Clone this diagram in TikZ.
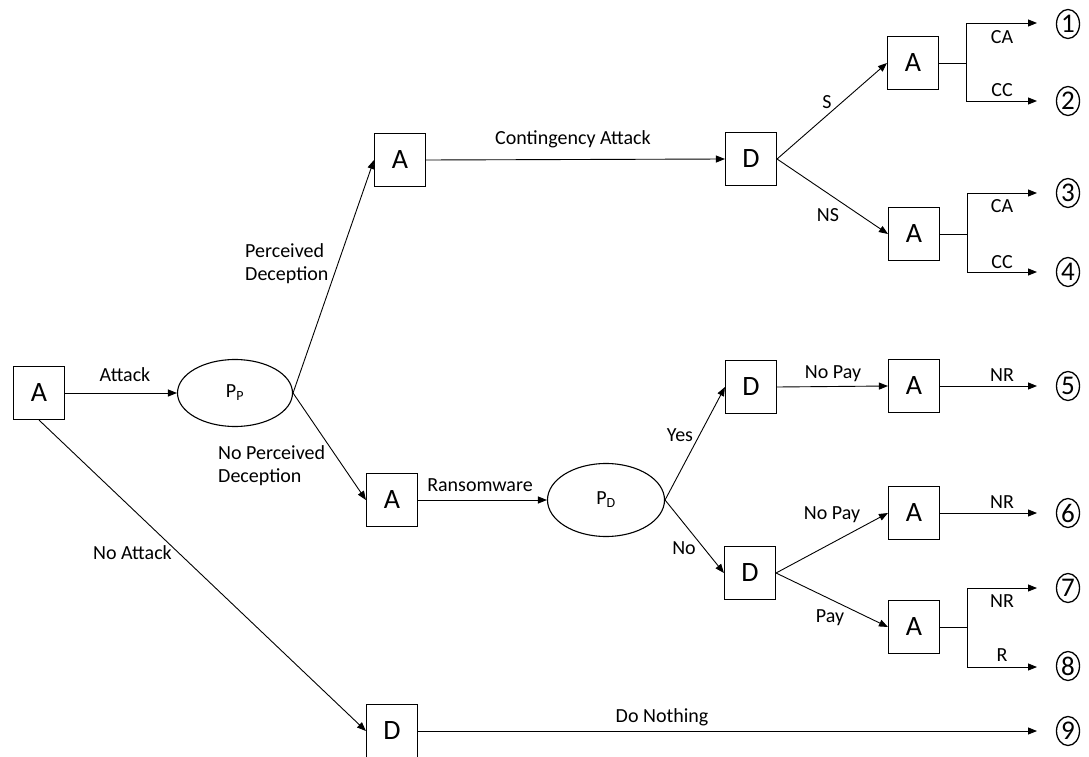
\documentclass[tikz,border=0pt]{standalone}
\usepackage{fontspec}
\setmainfont{Carlito}
\usetikzlibrary{arrows.meta,shapes.geometric}

\tikzset{
  box/.style={draw, line width=1.1pt, minimum width=51pt, minimum height=53pt,
              inner sep=0pt, font=\fontsize{28}{28}\selectfont},
  chance/.style={draw, ellipse, line width=1.1pt, inner sep=0pt,
                 font=\fontsize{20}{20}\selectfont},
  edge/.style={line width=0.9pt, -{Triangle[length=9pt,width=7pt]}},
  plain/.style={line width=0.9pt},
  lbl/.style={font=\fontsize{20}{20}\selectfont, inner sep=0pt},
  outcome/.style={draw, ellipse, line width=1.3pt, minimum width=23pt, minimum height=29pt,
                  inner sep=0pt, font=\fontsize{27}{27}\selectfont}
}

\begin{document}
\begin{tikzpicture}[x=1pt,y=-1pt]
\useasboundingbox (0,0) rectangle (1089,757);

% decision and chance nodes
\node[box] (root) at (39,393) {A};
\node[chance, minimum width=115pt, minimum height=67pt] (pp) at (235,393) {P\textsubscript{P}};
\node[box] (aup) at (400,160) {A};
\node[box] (amid) at (392,500) {A};
\node[box] (dbot) at (392,731) {D};
\node[box] (dtop) at (751,159) {D};
\node[chance, minimum width=117pt, minimum height=73pt] (pd) at (606,500) {P\textsubscript{D}};
\node[box] (dyes) at (751,387) {D};
\node[box] (dno) at (750,573) {D};
\node[box] (a12) at (913,63) {A};
\node[box] (a34) at (914,234) {A};
\node[box] (a5) at (914,386) {A};
\node[box] (a6) at (914,513) {A};
\node[box] (a78) at (914,627) {A};

% outcome markers
\node[outcome] (o1) at (1068,24) {1};
\node[outcome] (o2) at (1068,101) {2};
\node[outcome] (o3) at (1068,193) {3};
\node[outcome] (o4) at (1068,272) {4};
\node[outcome] (o5) at (1068,386) {5};
\node[outcome] (o6) at (1068,513) {6};
\node[outcome] (o7) at (1068,588) {7};
\node[outcome] (o8) at (1068,666) {8};
\node[outcome] (o9) at (1068,731) {9};

% arrow end points in front of the outcome markers
\coordinate (t1) at (1037,23);
\coordinate (t2) at (1037,101);
\coordinate (t3) at (1037,193);
\coordinate (t4) at (1037,272);
\coordinate (t5) at (1037,386);
\coordinate (t6) at (1037,513);
\coordinate (t7) at (1037,588);
\coordinate (t8) at (1037,667);
\coordinate (t9) at (1037,731);

% fork points
\coordinate (f12) at (966,63);
\coordinate (f34) at (967,234);
\coordinate (f78) at (967,627);

% main tree
\draw[edge] (root.east) -- (pp.west);
\draw[edge] (root.south) -- (dbot.west);
\draw[edge] (pp.east) -- (aup.west);
\draw[edge] (pp.east) -- (amid.west);
\draw[edge] (aup.east) -- (dtop.west);
\draw[edge] (amid.east) -- (pd.west);
\draw[edge] (pd.east) -- (dyes.west);
\draw[edge] (pd.east) -- (dno.west);
\draw[edge] (dtop.east) -- (a12.west);
\draw[edge] (dtop.east) -- (a34.west);
\draw[edge] (dyes.east) -- (a5.west);
\draw[edge] (dno.east) -- (a6.west);
\draw[edge] (dno.east) -- (a78.west);
\draw[edge] (dbot.east) -- (t9);

% terminal branches
\draw[plain] (a12.east) -- (f12);
\draw[edge] (f12) |- (t1);
\draw[edge] (f12) |- (t2);
\draw[plain] (a34.east) -- (f34);
\draw[edge] (f34) |- (t3);
\draw[edge] (f34) |- (t4);
\draw[edge] (a5.east) -- (t5);
\draw[edge] (a6.east) -- (t6);
\draw[plain] (a78.east) -- (f78);
\draw[edge] (f78) |- (t7);
\draw[edge] (f78) |- (t8);

% labels
\node[lbl] (lattack) at (125,375) {Attack};
\node[lbl, align=left, anchor=west] (lpd) at (245,264) {Perceived\\[3pt]Deception};
\node[lbl, align=left, anchor=west] (lnpd) at (218,466) {No Perceived\\[3pt]Deception};
\node[lbl, anchor=east] (lnoatt) at (172,553) {No Attack};
\node[lbl] (lcont) at (573,139) {Contingency Attack};
\node[lbl] (lrans) at (480,485) {Ransomware};
\node[lbl] (lnothing) at (662,717) {Do Nothing};
\node[lbl] (ls) at (827,102) {S};
\node[lbl] (lns) at (828,215) {NS};
\node[lbl] (lyes) at (680,435) {Yes};
\node[lbl] (lno) at (684,548) {No};
\node[lbl] (lnopay1) at (833,374) {No Pay};
\node[lbl] (lnopay2) at (832,515) {No Pay};
\node[lbl] (lpay) at (830,618) {Pay};
\node[lbl] (lca1) at (1002,37) {CA};
\node[lbl] (lcc2) at (1002,90) {CC};
\node[lbl] (lca3) at (1002,206) {CA};
\node[lbl] (lcc4) at (1002,262) {CC};
\node[lbl] (lnr5) at (1002,375) {NR};
\node[lbl] (lnr6) at (1002,502) {NR};
\node[lbl] (lnr7) at (1002,601) {NR};
\node[lbl] (lr8) at (1002,655) {R};
\end{tikzpicture}
\end{document}
